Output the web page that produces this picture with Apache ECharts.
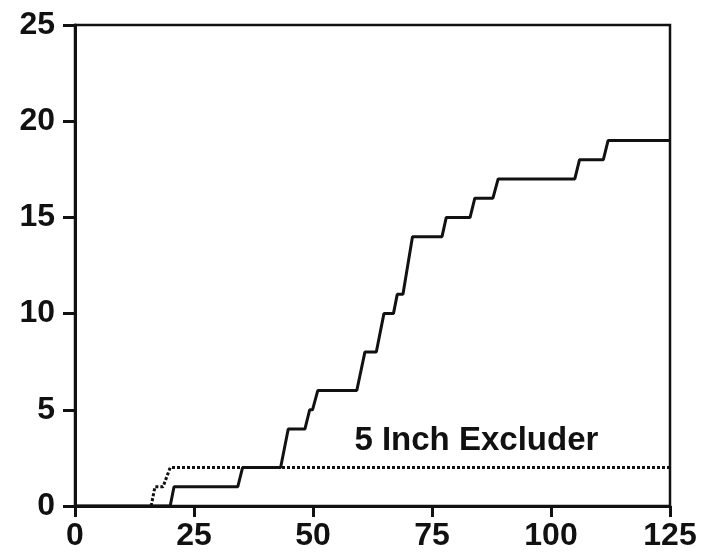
<!DOCTYPE html>
<html>
<head>
<meta charset="utf-8">
<script src="https://cdn.jsdelivr.net/npm/echarts@6/dist/echarts.min.js"></script>
<style>
html,body{margin:0;padding:0;background:#fff;}
#chart{width:708px;height:557px;}
</style>
</head>
<body>
<div id="chart"></div>
<script>
// x/y vertices of the step curves
const solidX = [0, 20, 20.8, 34.2, 35.2, 43.2, 44.8, 48.3, 49.3, 49.9, 51, 59.2, 60.9, 63.3, 64.9, 66.9, 67.7, 68.9, 70.9, 77.1, 78, 83, 84, 87.8, 88.9, 105, 106, 111, 112, 125];
const solidY = [0, 0, 1, 1, 2, 2, 4, 4, 5, 5, 6, 6, 8, 8, 10, 10, 11, 11, 14, 14, 15, 15, 16, 16, 17, 17, 18, 18, 19, 19];
const dottedX = [16, 16.8, 18.5, 20, 125];
const dottedY = [0, 1, 1, 2, 2];
const annotation = { text: '5 Inch Excluder', x: 58.7, y: 3.4 };
const xTicks = [0, 25, 50, 75, 100, 125];
const yTicks = [0, 5, 10, 15, 20, 25];

const zip = (xs, ys) => xs.map((x, i) => [x, ys[i]]);
const FONT = 'Liberation Sans';
const INK = '#111';

const chart = echarts.init(document.getElementById('chart'), null, { renderer: 'canvas' });
chart.setOption({
  backgroundColor: '#fff',
  animation: false,
  grid: {
    left: 75, right: 38, top: 25, bottom: 51,
    show: true, borderColor: INK, borderWidth: 2.5, backgroundColor: 'transparent'
  },
  xAxis: {
    type: 'value', min: xTicks[0], max: xTicks[xTicks.length - 1], interval: 25,
    axisLine: { lineStyle: { color: INK, width: 3 } },
    axisTick: { show: true, length: 11, lineStyle: { color: INK, width: 3 } },
    axisLabel: { color: INK, fontFamily: FONT, fontWeight: 'bold', fontSize: 32, margin: 14 },
    splitLine: { show: false }
  },
  yAxis: {
    type: 'value', min: yTicks[0], max: yTicks[yTicks.length - 1], interval: 5,
    axisLine: { show: true, lineStyle: { color: INK, width: 3 } },
    axisTick: { show: true, length: 12, lineStyle: { color: INK, width: 3 } },
    axisLabel: { color: INK, fontFamily: FONT, fontWeight: 'bold', fontSize: 32, margin: 20 },
    splitLine: { show: false }
  },
  series: [
    {
      type: 'line', data: zip(dottedX, dottedY), symbol: 'none', z: 2,
      lineStyle: { color: INK, width: 3, type: [3, 2] }
    },
    {
      type: 'line', data: zip(solidX, solidY), symbol: 'none', z: 3,
      lineStyle: { color: INK, width: 3 }
    },
    {
      type: 'scatter', data: [[annotation.x, annotation.y]], symbolSize: 0, z: 4,
      itemStyle: { opacity: 1, color: 'transparent' },
      emphasis: { disabled: true },
      label: {
        show: true, position: 'right', distance: 0, formatter: annotation.text,
        color: INK, opacity: 1, fontFamily: FONT, fontWeight: 'bold', fontSize: 33
      }
    }
  ]
});
</script>
</body>
</html>
